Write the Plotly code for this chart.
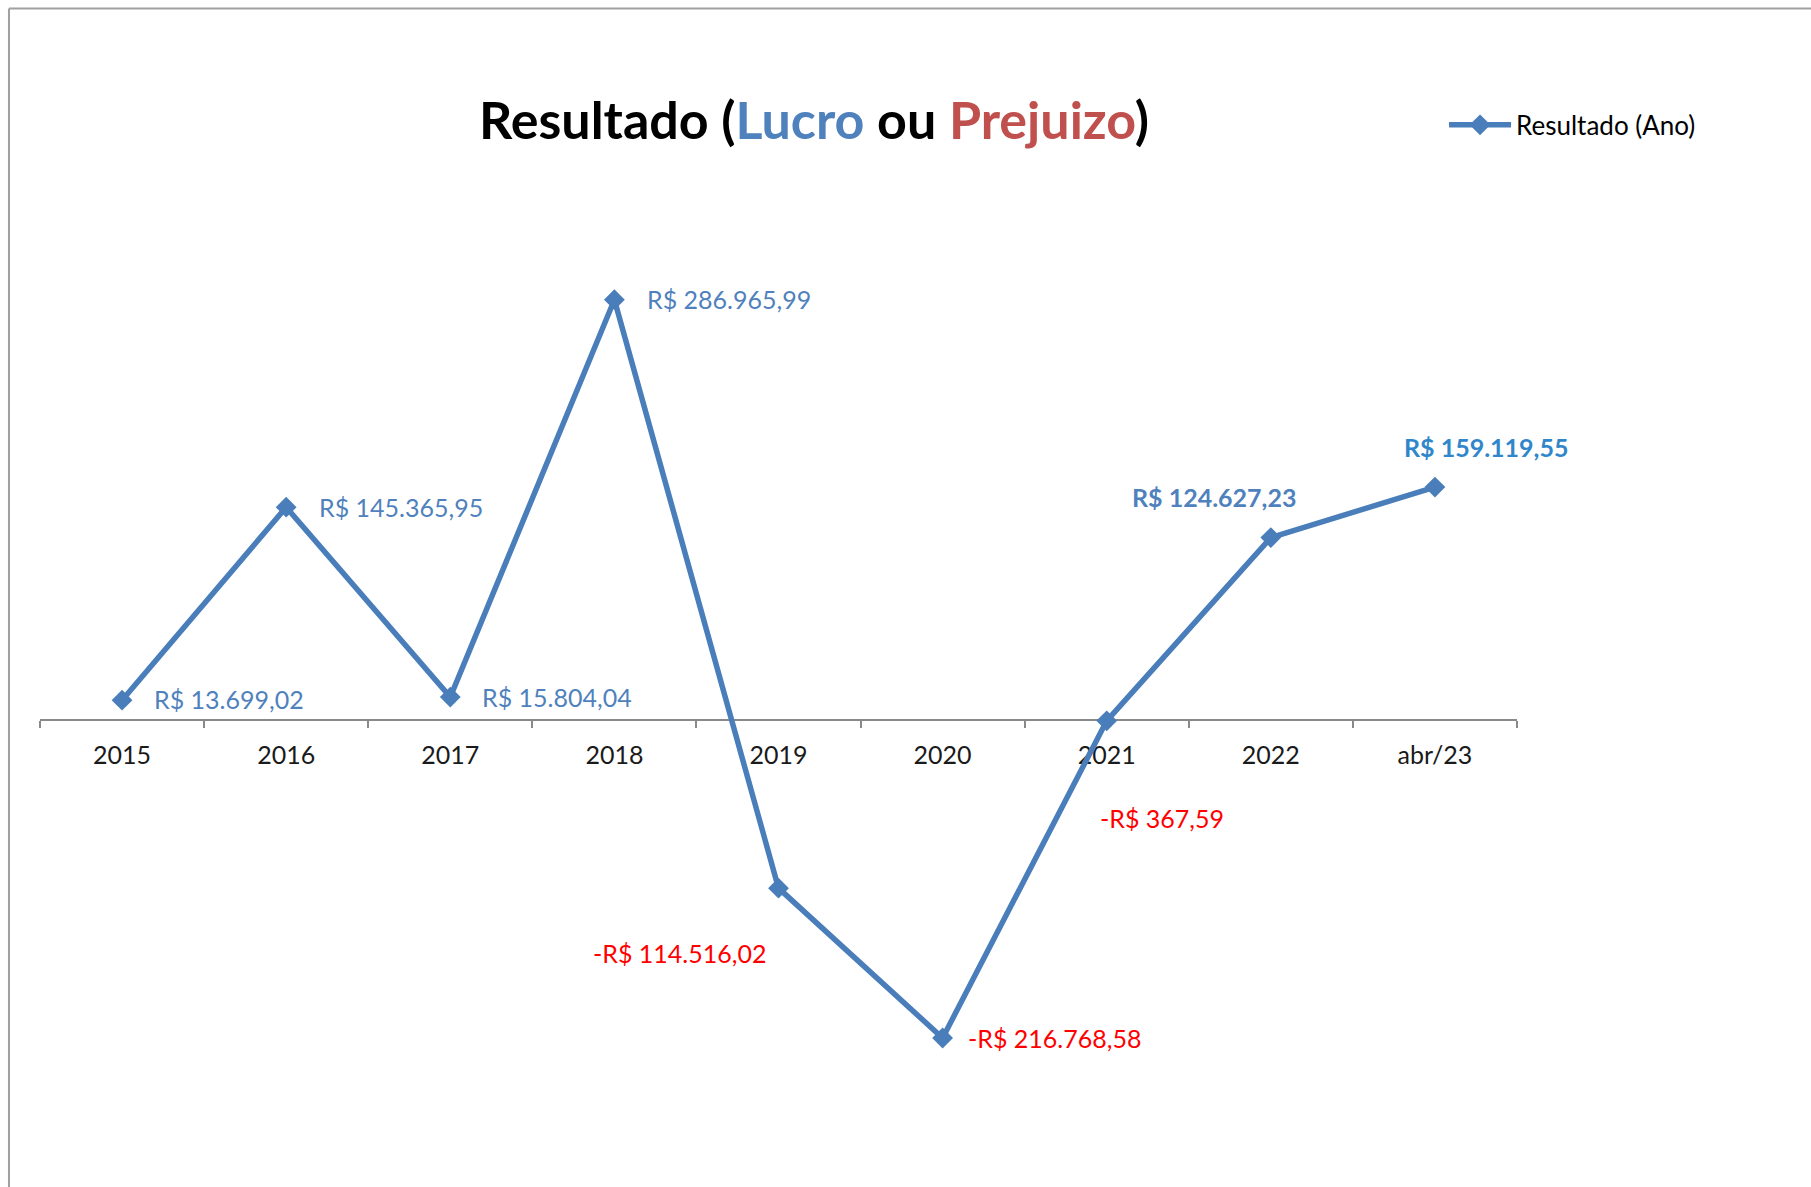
import plotly.graph_objects as go

# ---- data ----
categories = ["2015", "2016", "2017", "2018", "2019", "2020", "2021", "2022", "abr/23"]
resultado = [13699.02, 145365.95, 15804.04, 286965.99, -114516.02, -216768.58, -367.59, 124627.23, 159119.55]
series_name = "Resultado (Ano)"

# ---- label placement (pixel offsets from each point) ----
label_xanchor = ["left", "left", "left", "left", "center", "left", "center", "center", "center"]
label_xshift = [30, 31, 30, 31, -99, 23, 55, -57, 51]
label_yshift = [1, 0, 0, 1, -65, 0, -97, 41, 40]
label_bold = [False, False, False, False, False, False, False, True, True]

POS_COLOR = "#4F81BD"
NEG_COLOR = "#FF0000"
LAST_COLOR = "#2F86CB"
LINE_COLOR = "#4A7EBB"
FONT = "Lato, 'Open Sans', sans-serif"


def brl(v):
    s = f"{abs(v):,.2f}".replace(",", "X").replace(".", ",").replace("X", ".")
    return ("-R$ " if v < 0 else "R$ ") + s


fig = go.Figure()
fig.add_trace(go.Scatter(
    x=categories, y=resultado, name=series_name, mode="lines+markers",
    line=dict(color=LINE_COLOR, width=5.5),
    marker=dict(symbol="diamond", size=16, color=LINE_COLOR),
    showlegend=True,
))

annotations = []
for i, v in enumerate(resultado):
    if v < 0:
        col = NEG_COLOR
    elif i == len(categories) - 1:
        col = LAST_COLOR
    else:
        col = POS_COLOR
    txt = brl(v)
    if label_bold[i]:
        txt = f"<b>{txt}</b>"
    annotations.append(dict(
        x=i, y=v, xref="x", yref="y", text=txt, showarrow=False,
        xanchor=label_xanchor[i], yanchor="middle",
        xshift=label_xshift[i], yshift=label_yshift[i],
        font=dict(family=FONT, size=25, color=col),
    ))

y_min, y_max = -300000, 400000
zero_pos = (0 - y_min) / (y_max - y_min)

title_html = ("<b>Resultado (<span style='color:#4F81BD'>Lucro</span> ou "
              "<span style='color:#C0504D'>Prejuizo</span>)</b>")

fig.update_layout(
    width=1811, height=1187,
    margin=dict(l=40, r=294, t=134, b=27),
    paper_bgcolor="white", plot_bgcolor="white",
    title=dict(text=title_html, x=0.524, xref="paper", xanchor="center",
               y=1 - 121 / 1187, yref="container", yanchor="middle",
               font=dict(family=FONT, size=52, color="#000000")),
    xaxis=dict(
        type="category", range=[-0.5, len(categories) - 0.5],
        anchor="free", position=zero_pos,
        showline=True, linecolor="#898989", linewidth=1.5,
        ticks="outside", tickson="boundaries", ticklen=7, tickwidth=1.5, tickcolor="#898989",
        showgrid=False, zeroline=False, layer="below traces",
        tickfont=dict(family=FONT, size=25, color="#1a1a1a"),
        ticklabelstandoff=13,
    ),
    yaxis=dict(range=[y_min, y_max], visible=False, showgrid=False, zeroline=False),
    legend=dict(x=0.9506, y=1.0088, xanchor="left", yanchor="middle",
                font=dict(family=FONT, size=26, color="#000000"),
                itemwidth=62,
                bgcolor="rgba(0,0,0,0)"),
    annotations=annotations,
    shapes=[
        dict(type="line", xref="paper", yref="paper", x0=-0.021, x1=1.3, y0=1.1223, y1=1.1223,
             line=dict(color="#A0A0A0", width=2)),
        dict(type="line", xref="paper", yref="paper", x0=-0.021, x1=-0.021, y0=1.1223, y1=-0.2,
             line=dict(color="#A0A0A0", width=2)),
    ],
)

fig.write_html("out.html")
